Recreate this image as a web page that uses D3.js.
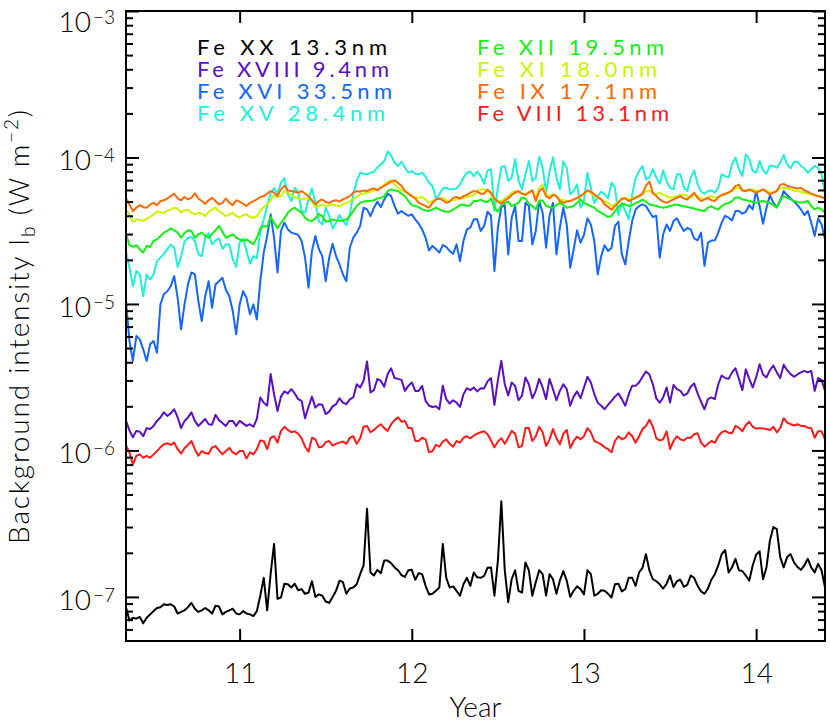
<!DOCTYPE html>
<html><head><meta charset="utf-8">
<script src="https://cdn.jsdelivr.net/npm/d3@7"></script>
<style>
body{margin:0;background:#fff}
svg text{font-family:Lato,'DejaVu Sans',sans-serif;font-weight:300;fill:#000}
</style></head><body>
<svg id="c" width="830" height="723"></svg>
<script>
// ---- data (intensities in units of 1e-6 W m^-2), weekly-ish samples from 2010.34 ----
const unit = 1e-6;
const yearStart = 10.34, yearStep = 0.02;
const xTicks = [11, 12, 13, 14];
const yDecades = [-7, -6, -5, -4, -3];
const seriesNames = ["Fe XX 13.3nm","Fe XVIII 9.4nm","Fe XVI 33.5nm","Fe XV 28.4nm","Fe XII 19.5nm","Fe XI 18.0nm","Fe IX 17.1nm","Fe VIII 13.1nm"];
const seriesColors = ["#000000","#5a10c0","#1565ff","#22f0d6","#14f014","#c8f500","#ff6a00","#ff1a1a"];

const feXX = [0.085,0.069,0.072,0.071,0.073,0.066,0.072,0.076,0.080,0.084,
0.085,0.089,0.088,0.089,0.086,0.077,0.079,0.081,0.085,0.091,
0.083,0.079,0.081,0.084,0.081,0.077,0.087,0.086,0.076,0.079,
0.081,0.083,0.077,0.076,0.080,0.077,0.076,0.074,0.080,0.102,
0.135,0.081,0.143,0.23,0.097,0.099,0.123,0.122,0.116,0.123,
0.111,0.113,0.105,0.107,0.128,0.10,0.104,0.102,0.093,0.091,
0.10,0.110,0.129,0.126,0.105,0.114,0.116,0.122,0.143,0.164,
0.40,0.147,0.14,0.153,0.145,0.177,0.177,0.17,0.159,0.152,
0.141,0.137,0.152,0.153,0.131,0.145,0.143,0.119,0.104,0.105,
0.110,0.116,0.23,0.135,0.116,0.118,0.110,0.102,0.122,0.135,
0.119,0.147,0.136,0.135,0.139,0.158,0.159,0.102,0.177,0.45,
0.152,0.092,0.132,0.152,0.110,0.107,0.172,0.152,0.102,0.126,
0.152,0.143,0.102,0.143,0.132,0.105,0.129,0.150,0.129,0.10,
0.110,0.118,0.113,0.104,0.152,0.143,0.102,0.105,0.111,0.110,
0.105,0.099,0.122,0.123,0.109,0.113,0.135,0.135,0.119,0.147,
0.158,0.196,0.152,0.132,0.128,0.122,0.114,0.123,0.140,0.117,
0.128,0.131,0.117,0.121,0.140,0.135,0.119,0.109,0.105,0.114,
0.131,0.143,0.164,0.196,0.209,0.147,0.159,0.182,0.152,0.150,
0.140,0.129,0.164,0.194,0.205,0.132,0.159,0.242,0.30,0.29,
0.186,0.159,0.187,0.196,0.172,0.160,0.153,0.164,0.182,0.159,
0.147,0.168,0.152,0.116];

const feXVIII = [1.59,1.37,1.23,1.36,1.34,1.25,1.42,1.40,1.47,1.59,
1.68,1.82,1.72,1.79,1.91,1.68,1.42,1.59,1.68,1.82,
1.59,1.47,1.55,1.64,1.51,1.50,1.75,1.61,1.54,1.47,
1.59,1.59,1.47,1.59,1.53,1.47,1.51,1.45,1.64,2.30,
2.12,2.02,3.32,2.42,1.86,2.33,2.53,2.45,2.62,2.45,
2.24,2.18,1.66,1.98,2.33,1.96,2.07,2.05,1.77,1.84,
2.0,2.07,2.27,2.12,2.07,2.23,2.30,2.83,2.69,2.99,
4.05,2.49,2.58,3.08,2.99,2.72,3.32,3.64,3.12,3.08,
3.03,2.55,2.76,2.91,2.55,2.55,2.76,2.18,2.02,1.98,
2.0,1.91,2.76,2.24,2.09,2.2,2.12,1.98,2.42,2.66,
2.58,2.69,2.53,2.66,2.65,2.96,3.12,2.05,3.03,4.09,
2.83,2.37,2.91,2.76,2.2,2.37,3.15,2.83,2.27,2.55,
3.08,2.69,2.24,3.08,2.62,2.2,2.55,2.83,2.62,2.02,
2.33,2.53,2.27,2.69,3.18,2.91,2.42,2.12,2.02,1.91,
2.05,2.18,2.33,2.45,2.24,2.02,2.42,2.76,2.76,2.91,
3.18,3.46,3.3,2.83,2.27,2.12,2.3,2.69,2.12,2.8,
2.62,2.55,2.37,2.45,2.72,2.87,2.45,2.15,1.91,2.24,
2.3,2.24,2.83,3.25,3.12,3.08,3.41,3.64,3.08,2.58,
3.58,3.08,2.69,3.15,3.88,3.3,3.15,3.53,3.8,3.41,
3.12,3.84,3.53,3.32,3.18,3.3,3.41,3.49,3.41,3.49,
2.55,3.12,3.03,2.55];

const feXVI = [10.5,5.58,4.08,6.04,5.73,4.9,4.08,5.3,5.58,4.65,
9.93,11.7,12.2,13.2,15.5,11,6.7,9.93,13.6,16.4,
15.9,10.5,7.64,11.3,14.3,9.42,13.6,14.3,15.1,12.5,
11.3,8.94,6.2,9.93,12.2,11,8.49,9.93,7.84,14.3,
22.4,29.1,40.9,28.3,16.4,31.5,35.9,32.3,30.7,30.2,
29.6,26.9,20.7,12.9,23,29.1,23.7,21.2,14.3,20.7,
25.8,21.2,18.6,15.9,14.3,24.2,28.3,30.7,34.1,45.4,
44.2,39.8,45.4,49.9,45.9,51.7,56.6,54.5,46.6,41.3,
43.1,41.3,40,40.9,37.8,35.3,32.3,28.3,23.2,24.9,
23.7,22.4,25.2,24.5,23,22,25.5,19.6,26.9,32.3,
33.2,37.8,37.8,31.5,34.1,42.6,40,16.8,33.2,45.9,
47.3,21.8,38.8,46.6,26.9,26.9,49,46.6,25.5,31.5,
50.4,42,24.2,40,49,21.8,33.2,45.4,34.9,17.7,
23.6,31.8,26.2,29.6,38.4,34.9,26.9,15.9,21.2,25.2,
23,24.2,34.1,36.4,21.8,18.6,26.9,36.8,44.2,46.6,
47.8,46.6,42.6,39.2,40,20.7,29.9,34.9,31.5,36.8,
38.4,34.6,31.5,33,32.3,28,27.2,30.7,18.2,26.2,
27.1,27.2,30.7,35.9,40,38.8,37.2,43.1,43.1,41.3,
42.6,47.3,44.2,59,46.6,35.3,45.4,55.3,49,45.9,
50.4,59,55.4,52.5,50,47.3,44.2,40.5,43.1,35.9,
29.1,38.4,34.9,27.7];

const feXV = [23,17.7,13.2,16.8,15.9,11.3,15.9,14.7,15.9,19.6,
20.7,22,23.7,25.5,24.2,17.9,21.2,26.6,28.3,28.6,
26.9,21.8,21.2,28.3,30.4,25.5,27.2,28,23.7,25.5,
25.5,20.2,17.9,26.2,28,23,18.8,21.2,20.5,31.2,
37.8,46.6,57.5,61.5,56.6,67.3,72,56,50.4,62.2,
57.5,43.1,42,51.7,61.5,49,36.8,34.9,45.4,40,
32.8,35.8,40.5,36.8,34.6,41.3,56,69.1,78.7,77.4,
76.7,78.7,80,85.2,89.8,94.6,110,103,92.2,87.5,
93.6,85.2,78.7,80.8,77.4,76.7,78.7,73.6,67.3,63.8,
52.5,56,61.5,62.2,60.6,60.6,61.5,65.5,72.8,78.7,
80,74.6,79.9,74.7,66.2,81.6,83.1,43.1,62.2,86,
87.5,69.1,72.8,97.3,69.1,60.6,76.7,94.6,69.1,72.8,
101,85.2,57.5,80.8,100,72.8,60.6,94,85.2,56,
59,65.5,45.4,50.4,78.7,62.2,48.8,54.5,58.4,56,
52.5,67.3,62.2,40.5,48.8,43.1,37.8,56,72,80.8,
87.5,71,72.8,83.1,72.8,66.2,81.6,69.1,61.8,60.6,
76.7,76.7,62.2,59,72.8,81.6,65.5,58.4,56.6,59,
59.6,57.5,62.2,76.7,74.7,72.8,89.8,100,83.1,74.7,
105,97.3,80.8,78.7,94.6,81.6,77.4,88.1,87.5,85.2,
92.2,104,89.8,84.4,93.6,93.6,87.5,84.4,78.7,83.1,
87.5,85.2,76.7,56];

const feXII = [29.9,25.2,24.5,25.2,23.6,22.4,24.9,24.5,26.9,27.6,
29.1,30.7,31.5,32.8,31.8,30.7,28.3,30.5,31.8,31.5,
28.3,29.9,30.7,29.1,28.3,30.2,31.8,34.2,31.1,28.3,
29.1,29.9,28.3,27.6,26.9,27.6,26.6,25.5,28.3,32.8,
34.2,33.6,39.2,35.8,32.8,35.8,38.4,42,44.2,45.4,
43.5,42,38.8,37.2,36.8,38.4,41.3,39.8,36.4,36.8,
37.8,37.2,36.8,37.2,37.8,39.8,43.1,46.6,49,50,
50.4,50.4,51,52.5,53,54.5,59,60.6,59.6,59,
56.6,54.5,50.4,47.3,46.6,45.9,44.2,43.5,43.1,44.2,
45.4,44.2,43.1,42.6,42.6,44.2,45.4,47.3,47.8,46.6,
47.3,50.4,50.4,51.5,50,49.7,52.5,45.4,42.6,47.3,
49,50,46.6,47.8,49,53.4,52.5,48.3,46.6,44.2,
50.9,50.9,46.6,45.9,45.4,47.3,49,47.3,45.4,45.9,
46.6,49,51.7,49,47.8,46.6,45.4,43.1,42,40.5,
39.2,39.8,43.1,45.9,48.3,47.8,46.6,47.3,48.8,50,
51.5,50,47.8,47.3,46.6,45.9,45.4,45.9,46.6,47.3,
47.8,47,46.4,45.9,45.4,44.8,44.2,43.5,43.1,45.4,
46.6,45,44.2,46.6,48.3,48.8,50.4,53.4,53.4,51.7,
51.2,50.4,49.7,49,50,50.4,49.7,49,47.3,45.4,
51.7,54.5,53,51.7,50.4,49.7,49,49.7,50.4,46.6,
44.2,45.4,44.2,42];

const feXI = [44.2,40.5,36.3,37.8,37.4,36.8,38.2,39.2,40.9,42.6,
42.2,41.8,43.5,44.2,45.4,44.7,42.2,43.5,44,42,
40.9,42,41.3,39.8,42.6,44.2,45.4,43.1,41.3,39.8,
40.9,42,39.8,38.8,40.5,40.9,39.2,38.8,39.8,43.1,
45.9,47.8,51,55.4,53.7,54.5,59,57.5,55.4,53.7,
52.5,51.7,52.5,53,50.4,45.9,46.6,47.8,46.6,47.3,
47.8,47,46.6,47.8,49,50.4,51.7,53.7,56,56.6,
57.5,58.4,59.6,60.6,62.2,65,68.4,69.8,65.5,62.2,
59.6,58.4,56.6,54.5,53,53,53.7,51.7,49,50.4,
51.7,52.5,53,51,50.4,51.2,51.7,52.5,53,53.7,
54.5,55.4,59,60.3,60.6,59,56,51.7,50.4,50,
52.5,54.5,57.5,59,58,56.6,56,58.4,59,52.5,
62.2,65,56,54.5,56,54.5,51.7,51,50.4,50.4,
51.5,52.5,54.5,56.6,59,57.5,54.5,53,51.7,50,
49,46.6,47.8,50,51.7,53,51.7,52.5,53.7,54.5,
56,59,59.6,56.6,56,57.5,55.4,54.5,53,53.7,
54.5,55.4,56,54.5,53,55.4,54.5,52.5,51.7,53.7,
54.5,53,53.7,55.4,56,57.5,59,61.5,62.2,59.6,
59,60,60.6,59,59.6,60.6,59,57.5,58.4,59,
61.5,62.2,61.5,60.6,59.6,59,58.4,57.5,56.6,56,
55.4,54.5,53.7,53];

const feIX = [53,47.8,43.1,45.4,47.3,45.8,45.4,47.8,49,47.3,
50.4,51,52.5,54.5,56.6,52.5,51,53.7,51.7,53,
57,52.5,50.4,48.3,51,53,50.4,47.8,49,52.5,
49,47.3,51,50,48.3,46.6,49,50.4,51.7,53.7,
54.5,56.6,59,57.5,54.5,60.6,64,59.6,59,58.4,
57.5,59,56.6,54.5,51,47.8,50.4,51.7,49.7,49,
50.4,51,50,51.7,53,54.5,57.5,59,58.4,59.6,
59,60.6,61.5,59.6,62.2,64,66,68.4,69.8,67,
64,59,56.6,54.5,52.5,49,47.8,46.6,45.4,49,
51.7,52.5,51,49,50,53,53.7,52.5,54.5,55.4,
57.5,59,58.4,56.6,56.6,60.3,57.5,52.5,50,48.3,
51,52.5,55.4,57.5,59,56.6,55.4,57.5,59.6,50.4,
59,61.5,54.5,52.5,55.4,54.5,50.4,49,50,50.4,
51.7,53,54.5,56.6,59.6,58.4,56,53.7,51.7,47.8,
46,44,46.6,49,52.5,52.5,50.4,51.7,53,54.5,
56.6,64,68.4,57.5,54.5,51.7,50,49,50.4,51.7,
53,54.5,52.5,51.7,54.5,57.5,53,50.4,51.7,53,
51,50.4,53.7,55.4,56.6,57.5,59.6,64,65,59.6,
59,60.6,59,57.5,59,60.6,58.4,56,57.5,59,
65,66,64,63,62.2,61.5,62.2,59.6,58.4,56.6,
55.4,54.5,53.7,52.5];

const feVIII = [1.08,0.97,0.80,0.92,0.94,0.89,0.92,0.89,0.94,0.99,
1.05,1.10,1.12,1.09,1.13,1.02,0.95,1.04,1.09,1.16,
1.02,0.92,0.99,0.96,0.95,1.05,1.07,1.0,0.94,0.99,
1.04,0.97,0.94,0.99,0.99,0.88,0.97,0.94,1.02,1.17,
1.16,1.02,1.22,1.25,1.13,1.36,1.45,1.38,1.33,1.35,
1.30,1.21,1.06,0.98,1.22,1.19,1.05,1.06,1.14,1.16,
1.08,1.11,1.13,1.15,1.11,1.22,1.25,1.11,1.21,1.45,
1.47,1.33,1.38,1.45,1.51,1.42,1.36,1.51,1.61,1.68,
1.57,1.59,1.42,1.42,1.16,1.16,1.22,1.19,0.97,0.99,
1.09,1.06,1.15,1.19,1.11,1.06,1.16,1.13,1.22,1.25,
1.21,1.26,1.30,1.33,1.35,1.29,1.17,1.05,1.15,1.21,
1.11,1.22,1.36,1.30,1.05,1.07,1.42,1.42,1.16,1.25,
1.45,1.33,1.07,1.19,1.40,1.21,1.10,1.30,1.38,1.04,
1.16,1.24,1.19,1.25,1.42,1.33,1.16,1.13,1.10,1.05,
1.02,0.97,1.16,1.25,1.19,1.22,1.33,1.25,1.13,1.25,
1.40,1.47,1.62,1.45,1.21,1.17,1.19,1.35,1.02,1.16,
1.25,1.19,1.17,1.22,1.22,1.29,1.31,1.13,1.06,1.11,
1.16,1.13,1.25,1.33,1.36,1.32,1.31,1.47,1.43,1.35,
1.49,1.57,1.45,1.41,1.42,1.41,1.40,1.38,1.45,1.33,
1.42,1.66,1.55,1.51,1.48,1.51,1.47,1.47,1.43,1.42,
1.22,1.35,1.35,1.19];

const seriesValues = [feXX, feXVIII, feXVI, feXV, feXII, feXI, feIX, feVIII];

// ---- layout ----
const X0 = 126, X1 = 825, Y0 = 11, Y1 = 641;
const svg = d3.select('#c');
const x = d3.scaleLinear().domain([10.34, 14.40]).range([X0, X1]);
const y = d3.scaleLog().domain([5e-8, 1e-3]).range([Y1, Y0]);

svg.append('defs').append('clipPath').attr('id', 'clip')
  .append('rect').attr('x', X0).attr('y', Y0).attr('width', X1 - X0).attr('height', Y1 - Y0);

const years = d3.range(feXX.length).map(i => yearStart + i * yearStep);
const line = d3.line().x((d, i) => x(years[i])).y(d => y(d * unit));

const plot = svg.append('g').attr('clip-path', 'url(#clip)');
seriesValues.forEach((vals, k) => {
  plot.append('path').attr('d', line(vals)).attr('fill', 'none')
    .attr('stroke', seriesColors[k]).attr('stroke-width', 2)
    .attr('stroke-linejoin', 'round');
});

// ---- axes ----
const majors = yDecades.map(e => Math.pow(10, e));
const minors = [];
[-8, -7, -6, -5, -4].forEach(e => { for (let k = 2; k <= 9; k++) { const v = k * Math.pow(10, e); if (v > 5.01e-8 && v < 1e-3) minors.push(v); } });

function tidy(g) { g.select('.domain').remove(); g.selectAll('line').attr('stroke', '#000').attr('stroke-width', 2); }

svg.append('g').attr('transform', `translate(${X0},0)`).call(d3.axisLeft(y).tickValues(majors).tickSize(-13).tickFormat('')).call(tidy);
svg.append('g').attr('transform', `translate(${X0},0)`).call(d3.axisLeft(y).tickValues(minors).tickSize(-7).tickFormat('')).call(tidy);
svg.append('g').attr('transform', `translate(${X1},0)`).call(d3.axisRight(y).tickValues(majors).tickSize(-13).tickFormat('')).call(tidy);
svg.append('g').attr('transform', `translate(${X1},0)`).call(d3.axisRight(y).tickValues(minors).tickSize(-7).tickFormat('')).call(tidy);
svg.append('g').attr('transform', `translate(0,${Y0})`).call(d3.axisTop(x).tickValues(xTicks).tickSize(-12).tickFormat('')).call(tidy);
const gx = svg.append('g').attr('transform', `translate(0,${Y1})`)
  .call(d3.axisBottom(x).tickValues(xTicks).tickSize(-12).tickPadding(22).tickFormat(d3.format('d'))).call(tidy);
gx.selectAll('text').style('font-size', '28px').attr('fill', '#000');

svg.append('rect').attr('x', X0).attr('y', Y0).attr('width', X1 - X0).attr('height', Y1 - Y0)
  .attr('fill', 'none').attr('stroke', '#000').attr('stroke-width', 2);

// y tick labels 10^n
yDecades.forEach(e => {
  const base = Math.max(y(Math.pow(10, e)) + 13, 32);
  const t = svg.append('text').attr('x', 115).attr('y', base).attr('text-anchor', 'end').style('font-size', '28px');
  t.append('tspan').text('10');
  t.append('tspan').text('\u2212' + Math.abs(e)).style('font-size', '19px').attr('dy', -8).attr('dx', 2);
});

// axis titles
svg.append('text').attr('x', (X0 + X1) / 2).attr('y', 717).attr('text-anchor', 'middle').style('font-size', '28px').text('Year');
const yt = svg.append('text').attr('transform', 'translate(29,326) rotate(-90)').attr('text-anchor', 'middle').style('font-size', '28px').style('letter-spacing', '1.8px');
yt.append('tspan').text('Background intensity I');
yt.append('tspan').text('b').style('font-size', '19px').attr('dy', 6);
yt.append('tspan').text(' (W m').attr('dy', -6);
yt.append('tspan').text('\u22122').style('font-size', '19px').attr('dy', -11);
yt.append('tspan').text(')').attr('dy', 11);

// legend
const legendX = [197, 197, 197, 197, 477, 477, 477, 477];
const legendY = [55, 77, 99, 121, 55, 77, 99, 121];
const legendW = [190, 192, 195, 188, 187, 180, 180, 192];
seriesNames.forEach((n, k) => {
  svg.append('text').attr('x', legendX[k]).attr('y', legendY[k]).style('font-size', '22px').style('font-weight', 400)
    .style('fill', seriesColors[k]).attr('textLength', legendW[k]).attr('lengthAdjust', 'spacing').text(n);
});
</script></body></html>
